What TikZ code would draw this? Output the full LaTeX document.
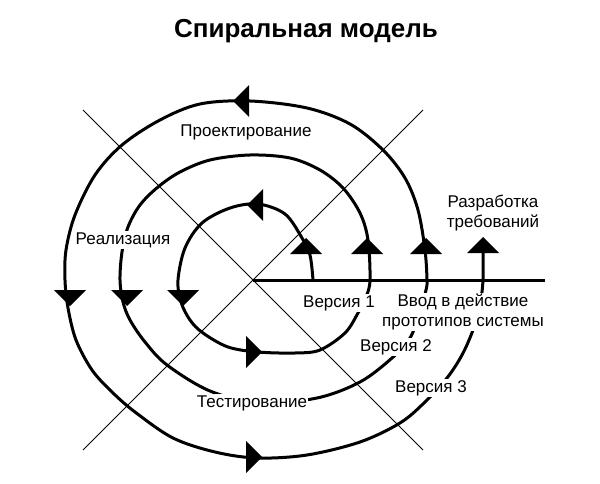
\documentclass[tikz,border=0pt]{standalone}
\usepackage{fontspec}
\setmainfont{Liberation Sans}
\begin{document}
\begin{tikzpicture}[x=1pt, y=-1pt,
        lbl/.style={fill=white, inner sep=1pt, align=center, font=\fontsize{17}{20}\selectfont},
        spiral/.style={line width=3pt, line cap=round}]
    \useasboundingbox (0,0) rectangle (600,484);
    \def\w{16pt}
    \def\h{8pt}
    \node[font=\fontsize{26}{30}\selectfont\bfseries] (title) at (306,31) {Спиральная модель};
    \draw[line width=0.9pt] (83,110) -- (423,450);
    \draw[line width=0.9pt] (423,110) -- (83,450);
    \draw[line width=3pt] (253,280) -- (545,280);
    \draw[spiral] plot[smooth, tension=0.55] coordinates {
        (313,280) (310,255) (302,238) (285,214) (258,204) (230,208) (202,223) (185,248) (178,280)
        (181,302) (190,320) (203,333) (228,347) (258,352) (295,353) (320,350) (345,333) (358,313) (366,297) (370,280)
        (368,240) (360,213) (343,188) (320,170) (290,158) (250,155) (210,160) (180,172) (158,187)
        (140,205) (128,227) (122,252) (120,280)
        (123,302) (130,320) (145,342) (167,365) (210,391) (260,403) (317,398) (360,382) (392,358) (410,338)
        (420,312) (426,290) (427,280)
        (425,250) (418,210) (405,178) (383,150) (350,124) (307,108) (250,101) (200,104) (160,120)
        (122,145) (95,175) (75,215) (66,250) (65,280)
        (68,308) (76,340) (92,370) (112,392) (135,412) (173,438) (215,452) (257,458) (307,455) (360,442)
        (400,423) (425,402) (447,378) (462,355) (473,330) (480,305) (483,280) (483,250)};
    \node[lbl] (proekt) at (246,132) {Проектирование};
    \node[lbl] (realiz) at (123,240) {Реализация};
    \node[lbl] (test) at (252,403) {Тестирование};
    \node[lbl] (v1) at (339,303) {Версия 1};
    \node[lbl] (v2) at (396,347) {Версия 2};
    \node[lbl] (v3) at (431,388) {Версия 3};
    \node[lbl] (vvod) at (463,312) {Ввод в действие\\прототипов системы};
    \node[lbl] (razrab) at (493,213) {Разработка\\требований};
    \foreach \x/\y/\a in {306/246/0, 367/246/0, 426/246/0, 483/245/0,
            255/205/90, 241/101/90, 70/298/180, 127/298/180, 183/298/180,
            254/352/-90, 254/457/-90}
        \fill[shift={(\x,\y)}, rotate=\a] (0pt,\h) -- (-\w,-\h) -- (\w,-\h) -- cycle;
\end{tikzpicture}
\end{document}
